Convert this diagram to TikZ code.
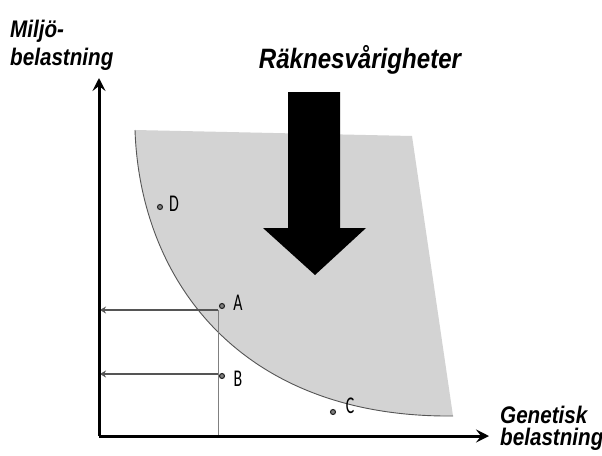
\documentclass[tikz,border=0pt]{standalone}
\usepackage{fontspec}
\setmainfont{Liberation Sans}
\newfontfamily\axfont[FakeStretch=0.86]{Liberation Sans}
\newfontfamily\labfont[FakeStretch=0.66]{Carlito}
\usetikzlibrary{arrows.meta}
\definecolor{regiongray}{RGB}{211,211,211}
\definecolor{linegray}{RGB}{85,85,85}
\tikzset{
  axis/.style={line width=3pt,-{Stealth[length=13pt,width=13pt,inset=5pt]}},
  guide/.style={draw=linegray,line width=1.3pt,-{Stealth[length=6pt,width=7pt]}},
  thinline/.style={draw=gray,line width=0.8pt},
  axlabel/.style={font=\axfont\fontsize{24}{26}\selectfont\bfseries\itshape,inner sep=0pt},
  ptlabel/.style={font=\labfont\fontsize{24}{26}\selectfont,inner sep=0pt,text=black},
  pt/.style={circle,draw=black!85,fill=gray,line width=1.1pt,minimum size=5pt,inner sep=0pt},
}
\begin{document}
\begin{tikzpicture}[x=1pt,y=-1pt]
\useasboundingbox (0,0) rectangle (602,455);
% shaded region
\fill[regiongray] (135,130) -- (412,136) -- (453,416)
  .. controls (240,418) and (140,280) .. (135,130) -- cycle;
\draw[linegray,line width=0.9pt] (453,416) .. controls (240,418) and (140,280) .. (135,130);
% big arrow
\fill[black] (288,92) -- (340,92) -- (340,228) -- (366,228) -- (315,275) -- (263,228) -- (288,228) -- cycle;
% coordinates
\coordinate (O) at (99,436);
\coordinate (Ytip) at (99,78);
\coordinate (Xtip) at (489,436);
\coordinate (Ay) at (100,310);
\coordinate (By) at (100,374);
\coordinate (Ac) at (218,310);
\coordinate (Bc) at (218,374);
\coordinate (Xa) at (218,436);
% guide lines
\draw[thinline] (Ac) -- (Xa);
\draw[guide] (Ac) -- (Ay);
\draw[guide] (Bc) -- (By);
% axes
\draw[axis] (O) -- (Ytip);
\draw[axis] (O) -- (Xtip);
% points
\node[pt] (A) at (222,306) {};
\node[pt] (B) at (222,376) {};
\node[pt] (C) at (333,412) {};
\node[pt] (D) at (160,207) {};
\node[ptlabel] (Al) at (238,303) {A};
\node[ptlabel] (Bl) at (238,379) {B};
\node[ptlabel] (Cl) at (350,406) {C};
\node[ptlabel] (Dl) at (174,204) {D};
% texts
\node[axlabel,anchor=base west] (m1) at (10,37) {Miljö-};
\node[axlabel,anchor=base west] (m2) at (10,65) {belastning};
\node[axlabel,anchor=base west] (g1) at (500,423) {Genetisk};
\node[axlabel,anchor=base west] (g2) at (500,445) {belastning};
\node[font=\axfont\fontsize{28}{30}\selectfont\bfseries\itshape,inner sep=0pt,anchor=base] (title) at (360,68) {Räknesvårigheter};
\end{tikzpicture}
\end{document}
